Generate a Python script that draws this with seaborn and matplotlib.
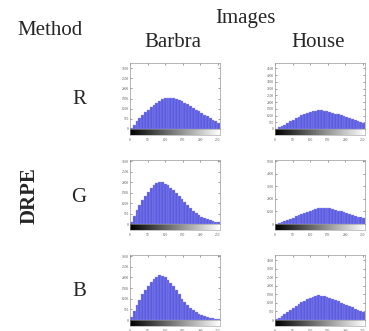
import numpy as np
import pandas as pd
import matplotlib
matplotlib.use("Agg")
import matplotlib.pyplot as plt
import seaborn as sns

sns.set_style("white")
plt.rcParams['font.family'] = ['Liberation Serif', 'DejaVu Serif']

# ---- data ----
bin_edges = list(range(0, 257, 8))
bin_centers = [4, 12, 20, 28, 36, 44, 52, 60, 68, 76, 84, 92, 100, 108, 116, 124,
               132, 140, 148, 156, 164, 172, 180, 188, 196, 204, 212, 220, 228, 236, 244, 252]

barbra_r = [50, 200, 380, 530, 680, 820, 950, 1070, 1180, 1290, 1380, 1460, 1520, 1550, 1540, 1520,
            1480, 1430, 1370, 1300, 1220, 1140, 1050, 960, 870, 780, 700, 620, 540, 460, 390, 320]
house_r = [30, 120, 220, 330, 440, 560, 680, 800, 910, 1010, 1100, 1180, 1250, 1310, 1350, 1380,
           1390, 1370, 1330, 1280, 1220, 1150, 1080, 1020, 960, 890, 810, 730, 650, 580, 510, 450]
barbra_g = [100, 380, 650, 900, 1130, 1340, 1530, 1700, 1840, 1950, 2000, 1990, 1930, 1840, 1730, 1600,
            1460, 1320, 1170, 1030, 890, 760, 640, 530, 430, 350, 280, 220, 180, 140, 110, 90]
house_g = [30, 100, 170, 250, 330, 420, 510, 610, 710, 800, 890, 980, 1060, 1140, 1210, 1260,
           1290, 1300, 1280, 1250, 1200, 1140, 1070, 1000, 920, 850, 780, 710, 640, 580, 520, 470]
barbra_b = [120, 420, 700, 960, 1200, 1410, 1600, 1770, 1920, 2040, 2090, 2080, 2000, 1880, 1740, 1580,
            1410, 1230, 1000, 840, 700, 580, 470, 370, 290, 220, 170, 130, 100, 80, 60, 50]
house_b = [40, 140, 250, 360, 480, 600, 710, 820, 930, 1030, 1120, 1210, 1290, 1360, 1420, 1440,
           1430, 1400, 1350, 1290, 1230, 1160, 1090, 1020, 950, 880, 810, 740, 670, 610, 550, 490]

images = ["Barbra", "House"]
channels = ["R", "G", "B"]
method = "DRPE"
x_ticks = [0, 50, 100, 150, 200, 250]

panels = {
    ("R", "Barbra"): (barbra_r, 3250, 3000, 500),
    ("R", "House"): (house_r, 4900, 4500, 500),
    ("G", "Barbra"): (barbra_g, 3050, 3000, 500),
    ("G", "House"): (house_g, 5100, 5000, 1000),
    ("B", "Barbra"): (barbra_b, 3050, 3000, 500),
    ("B", "House"): (house_b, 3800, 3500, 500),
}

W, H = 369, 331
fig = plt.figure(figsize=(W / 100, H / 100), dpi=100)

col_left = {"Barbra": 130, "House": 275}
col_w = 90
row_box = {"R": (63, 129), "G": (160, 224), "B": (255, 320)}
cbar_h = 6
bar_color = "#5c5ce0"
gradient = np.linspace(0, 1, 256).reshape(1, -1)

def px_axes(x0, y0, w, h):
    return fig.add_axes([x0 / W, 1 - (y0 + h) / H, w / W, h / H])

for (ch, img), (vals, ylim, ytop, ystep) in panels.items():
    top, bot = row_box[ch]
    ax = px_axes(col_left[img], top, col_w, bot - top)
    df = pd.DataFrame({"intensity": bin_centers, "count": vals})
    sns.histplot(data=df, x="intensity", weights="count", bins=bin_edges, ax=ax,
                 color=bar_color, edgecolor="#9a9af0", linewidth=0.25, alpha=1.0)
    ax.set_xlim(0, 256)
    ax.set_ylim(0, ylim)
    ax.set_xlabel("")
    ax.set_ylabel("")
    ax.set_yticks(np.arange(0, ytop + 1, ystep))
    ax.set_xticks(x_ticks)
    ax.tick_params(axis="y", labelsize=2.6, length=1.5, width=0.4, direction="in",
                   right=True, left=True, pad=1, colors="#555555")
    ax.tick_params(axis="x", labelbottom=False, length=1.5, width=0.4, direction="in",
                   top=True, bottom=False, colors="#555555")
    for s in ax.spines.values():
        s.set_linewidth(0.5)
        s.set_color("#999999")
        s.set_visible(True)

    cax = px_axes(col_left[img], bot, col_w, cbar_h)
    cax.imshow(gradient, aspect="auto", cmap="gray", extent=[0, 256, 0, 1])
    cax.set_xlim(0, 256)
    cax.set_yticks([])
    cax.set_xticks(x_ticks)
    cax.tick_params(axis="x", labelsize=2.6, length=1, width=0.4, pad=0.8, colors="#555555")
    for s in cax.spines.values():
        s.set_linewidth(0.4)
        s.set_color("#999999")

fs = 15
fig.text(17 / W, 1 - 35 / H, "Method", fontsize=fs, ha="left", va="baseline")
fig.text(245 / W, 1 - 23 / H, "Images", fontsize=fs, ha="center", va="baseline")
fig.text(173 / W, 1 - 47 / H, images[0], fontsize=fs, ha="center", va="baseline")
fig.text(318 / W, 1 - 47 / H, images[1], fontsize=fs, ha="center", va="baseline")
for ch, yc in zip(channels, [100, 197, 292]):
    fig.text(79 / W, 1 - yc / H, ch, fontsize=fs, ha="center", va="center")
fig.text(30 / W, 1 - 196 / H, method, fontsize=fs, fontweight="bold", rotation=90,
         ha="center", va="center")

fig.savefig("out.png", dpi=100)
